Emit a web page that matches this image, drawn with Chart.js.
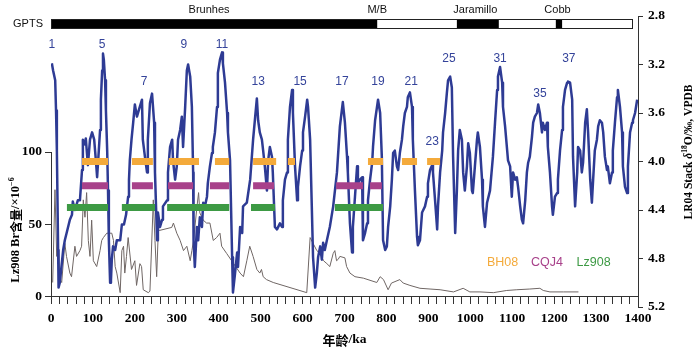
<!DOCTYPE html>
<html><head><meta charset="utf-8">
<script src="https://cdn.jsdelivr.net/npm/chart.js@4.4.1/dist/chart.umd.min.js"></script>
<style>html,body{margin:0;padding:0;background:#fff;}canvas{display:block;}</style>
</head><body>
<canvas id="c" width="700" height="352"></canvas>
<script>
// ---------- DATA ----------
// LR04 benthic stack: [age ka, δ18O ‰]
const lr04Stack = [
[2,3.19],[5,3.25],[10,3.33],[12,3.58],[14,3.91],[15.5,4.32],[17,4.73],[18,5.04],[21,5.00],[24,4.90],[29,4.73],[33,4.65],[38,4.58],[45,4.48],[50,4.44],[52,4.33],[57,4.40],[64,4.32],[69,4.32],[74,4.07],[76,3.82],[81,3.86],[83,3.81],[88,4.03],[93,3.82],[98,3.76],[103,3.82],[107,3.99],[110,4.13],[114,3.91],[117,3.74],[119,3.49],[122,3.25],[124,3.11],[126,3.16],[129,3.33],[131,3.58],[134,3.91],[136,4.24],[138,4.65],[141,5.00],[143,4.98],[145,4.81],[148,4.70],[153,4.73],[157,4.65],[165,4.65],[169,4.52],[174,4.52],[179,4.44],[184,4.29],[186,4.15],[188,3.99],[192,3.82],[196,3.68],[200,3.53],[205,3.63],[210,3.57],[217,3.49],[219,3.82],[224,3.96],[229,4.09],[231,3.82],[236,3.52],[241,3.44],[246,3.68],[248,4.09],[253,4.65],[255,4.42],[260,4.54],[265,4.48],[267,4.37],[277,4.32],[279,4.09],[284,3.88],[289,3.82],[291,3.99],[296,4.15],[300,4.04],[303,3.82],[308,3.74],[312,3.63],[315,3.88],[320,3.55],[324,3.25],[327,3.20],[332,3.30],[336,3.55],[339,4.09],[340,4.65],[343,4.87],[348,4.54],[351,4.65],[355,4.46],[360,4.54],[363,4.34],[367,4.37],[372,4.29],[374,4.18],[379,4.04],[384,3.93],[386,3.88],[391,3.76],[396,3.55],[398,3.27],[403,3.16],[408,3.10],[410,3.19],[415,3.35],[420,3.60],[422,3.76],[427,3.99],[432,4.79],[434,5.08],[439,4.92],[444,4.75],[446,4.87],[451,4.54],[456,4.59],[458,4.37],[467,4.34],[475,4.15],[482,3.82],[487,3.63],[491,3.48],[494,3.66],[498,3.76],[503,3.82],[506,3.91],[510,4.04],[515,4.24],[518,3.99],[522,3.88],[527,3.96],[529,4.09],[534,4.54],[539,4.56],[546,4.51],[551,4.54],[553,4.32],[558,4.15],[563,4.09],[565,3.82],[570,3.55],[575,3.41],[577,3.60],[582,4.04],[587,4.32],[589,4.21],[594,4.04],[599,3.91],[601,3.76],[606,3.63],[611,3.49],[613,3.55],[618,3.82],[622,4.37],[625,4.79],[630,5.04],[634,4.92],[637,4.79],[642,4.70],[646,4.81],[649,4.67],[653,4.73],[658,4.65],[665,4.54],[673,4.37],[682,4.09],[689,3.71],[696,3.51],[701,3.68],[706,3.96],[708,4.09],[713,4.51],[718,4.75],[720,4.54],[725,4.29],[730,4.04],[732,4.18],[737,4.15],[742,4.13],[744,4.65],[749,4.59],[754,4.51],[756,4.32],[761,4.15],[766,4.01],[768,3.88],[773,3.66],[780,3.49],[785,3.60],[789,3.96],[792,4.65],[797,4.73],[801,4.70],[804,4.54],[809,4.37],[813,4.15],[816,3.93],[820,3.91],[825,4.04],[828,4.07],[832,3.93],[837,3.82],[840,3.71],[844,3.60],[849,3.55],[851,3.47],[856,3.43],[861,3.55],[863,3.82],[868,4.24],[873,4.62],[875,4.69],[880,4.65],[885,4.42],[887,4.42],[892,4.37],[897,4.29],[899,4.18],[904,4.07],[909,4.03],[911,4.09],[916,4.32],[921,4.56],[923,4.37],[928,4.09],[933,3.91],[935,3.76],[940,3.60],[944,3.44],[947,3.33],[952,3.30],[956,3.39],[959,3.96],[964,4.59],[968,4.24],[971,3.91],[975,3.74],[980,3.82],[983,4.09],[987,4.24],[992,4.04],[995,3.85],[999,3.93],[1004,4.24],[1006,4.26],[1011,4.04],[1016,3.82],[1018,3.76],[1023,3.88],[1028,4.15],[1030,4.37],[1035,4.54],[1040,4.34],[1047,4.24],[1054,3.96],[1059,3.68],[1064,3.41],[1066,3.30],[1071,3.22],[1076,3.35],[1078,3.55],[1083,3.71],[1088,3.91],[1090,3.99],[1095,4.04],[1099,4.29],[1102,4.09],[1107,4.15],[1111,4.13],[1114,4.21],[1119,4.37],[1123,4.48],[1126,4.51],[1131,4.32],[1135,4.09],[1138,4.01],[1142,3.96],[1147,3.80],[1150,3.68],[1154,3.63],[1159,3.60],[1162,3.53],[1166,3.60],[1171,3.76],[1173,3.68],[1178,3.74],[1183,3.68],[1185,3.88],[1190,4.09],[1195,4.37],[1197,4.44],[1202,4.29],[1207,4.26],[1209,4.15],[1214,3.91],[1219,3.74],[1221,3.55],[1226,3.41],[1231,3.35],[1233,3.34],[1238,3.35],[1243,3.49],[1245,3.96],[1250,4.37],[1255,4.09],[1257,3.88],[1262,3.91],[1266,4.09],[1269,4.01],[1274,3.68],[1278,3.57],[1281,3.76],[1286,4.15],[1290,4.34],[1293,4.15],[1297,3.91],[1302,3.82],[1305,3.71],[1309,3.66],[1314,3.68],[1317,3.76],[1321,3.96],[1326,4.07],[1328,4.04],[1333,4.18],[1338,4.09],[1340,3.91],[1345,3.68],[1350,3.47],[1352,3.41],[1357,3.55],[1362,3.76],[1364,4.04],[1369,4.21],[1374,4.26],[1376,4.04],[1381,3.76],[1386,3.68],[1388,3.66],[1393,3.60],[1398,3.49]
];
// Lz908 Br content: [age ka, Br ×10^-6]
const lz908Br = [
[4,10],[9.5,74],[13.6,28],[17,37],[21.5,12],[25.5,10],[33,37],[37,28],[45,16.5],[49,14],[57,35],[61,28],[69,32],[73,35],[77,67],[81,55],[85,72],[89,39],[93,28],[97,53],[101,25],[109,21],[117,32],[121,39],[125,41],[133,44],[145,44],[149,39],[153,21],[157,16.5],[165,3],[169,32],[173,35],[176,16.5],[180,28],[184,41],[192,19],[200,25],[204,8],[212,23],[216,21],[220,5],[232,3],[236,4],[244,67],[248,39],[252,14],[256,46],[260,46],[288,48],[292,51],[300,44],[308,39],[316,32],[324,35],[332,25],[336,32],[340,39],[348,62],[352,72],[355,58],[363,53],[371,51],[379,51],[387,39],[395,41],[403,44],[407,35],[419,30],[451,16.5],[459,14],[467,25],[474,35],[482,28],[491,19],[498,16.5],[502,19],[506,14],[514,12],[530,10],[610,3],[618,41],[625,37],[634,32],[642,30],[650,25],[658,23],[665,21],[673,30],[677,32],[681,25],[685,26],[689,28],[701,27],[705,21],[713,16.5],[725,14],[745,13],[777,10],[785,14],[793,12],[804,5],[812,9.6],[832,12],[840,9.6],[856,8],[880,6],[904,5.5],[928,5],[960,3.5],[983,6],[999,3.5],[1023,3.5],[1055,3],[1087,4.5],[1111,5],[1142,5.5],[1166,6],[1174,4.5],[1190,3.5],[1222,3.5],[1258,3.5]
];
// Loess/lake intervals (ka) for the three records
const bh08Ranges  = [[74,136],[193,243],[281,353],[391,425],[482,537],[565,582],[756,792],[837,873],[897,928]];
const cqj4Ranges  = [[74,136],[193,243],[279,339],[379,425],[482,532],[680,744],[761,789]];
const lz908Ranges = [[38,136],[169,248],[277,425],[477,534],[677,792]];
const rangeLevels = {BH08: 4.0, CQJ4: 4.2, Lz908: 4.38};
const seriesNames = ['BH08','CQJ4','Lz908'];
// MIS peak labels
const misLabels = ['1','5','7','9','11','13','15','17','19','21','23','25','31','35','37'];
const misAge    = [2,122,222,317,408,494,594,694,780,859,909,949,1071,1166,1235];
const misD18O   = [3.04,3.04,3.34,3.04,3.04,3.34,3.34,3.34,3.34,3.34,3.84,3.15,3.15,3.44,3.15];
// GPTS
const gptsNormal = [[0,778],[968,1068],[1204,1219]];
const gptsEnd = 1385;
const gptsNames = ['Brunhes','M/B','Jaramillo','Cobb'];
const gptsNameAge = [377,778,1012,1208];
// legend text positions (age, δ18O)
const legendAge = [1077,1183,1294];
const legendD18O = 4.83;
// ticks
const xTickLabels = [0,100,200,300,400,500,600,700,800,900,1000,1100,1200,1300,1400];
const xMinorStep = 20;
const leftTicks = [0,50,100];
const rightTicks = [2.8,3.2,3.6,4.0,4.4,4.8,5.2];

// ---------- STYLE ----------
const SERIF = '"Liberation Serif","Times New Roman",serif';
const SANS = '"Liberation Sans",Arial,sans-serif';
const CJK = '"Noto Sans CJK SC",sans-serif';
const colors = {BH08:'#f4aa3b', CQJ4:'#a8418a', Lz908:'#3d9a44'};
const blue = '#2e3b94', grey = '#6f6664', axisCol = '#333';

function rangeData(ranges, lvl){
  const d=[];
  ranges.forEach(([a,b])=>{ d.push({x:a,y:lvl},{x:b,y:lvl},{x:b+0.01,y:null}); });
  return d;
}
const xMinor=[]; for(let v=0; v<=1400; v+=xMinorStep) xMinor.push(v);

function drawRuns(ctx, runs, cx, cy){
  let total=0;
  runs.forEach(r=>{ctx.font=r.font; r.w=ctx.measureText(r.t).width; total+=r.w;});
  let x=cx-total/2;
  ctx.textAlign='left'; ctx.textBaseline='middle';
  runs.forEach(r=>{ctx.font=r.font; ctx.fillText(r.t,x,cy+(r.dy||0)); x+=r.w;});
}

const overlay = {
  id:'overlay',
  afterDraw(chart){
    const {ctx, chartArea:ca, scales:{x,yL,yR}} = chart;
    ctx.save();
    // left axis line (0-100 only)
    ctx.strokeStyle=axisCol; ctx.lineWidth=1;
    const lx=Math.round(ca.left-0.5)+0.5;
    ctx.beginPath(); ctx.moveTo(lx,yL.getPixelForValue(100)); ctx.lineTo(lx,yL.getPixelForValue(0)); ctx.stroke();
    // GPTS bar
    const gy=19, gh=10;
    ctx.fillStyle='#000';
    gptsNormal.forEach(([a,b])=>{const p=x.getPixelForValue(a),q=x.getPixelForValue(b); ctx.fillRect(p,gy,q-p,gh);});
    ctx.strokeStyle='#222';
    const x0=x.getPixelForValue(0), x1=x.getPixelForValue(gptsEnd);
    ctx.strokeRect(Math.round(x0)+0.5,gy+0.5,Math.round(x1-x0),gh-1);
    ctx.fillStyle='#111'; ctx.font='11px '+SANS; ctx.textAlign='center'; ctx.textBaseline='middle';
    gptsNames.forEach((n,i)=>ctx.fillText(n,x.getPixelForValue(gptsNameAge[i]),10));
    ctx.textAlign='right'; ctx.fillText('GPTS',ca.left-8,24);
    // MIS labels
    ctx.fillStyle='#34439a'; ctx.font='12px '+SANS; ctx.textAlign='center';
    misLabels.forEach((t,i)=>ctx.fillText(t,x.getPixelForValue(misAge[i]),yR.getPixelForValue(misD18O[i])));
    // legend text
    ctx.font='12.5px '+SANS;
    seriesNames.forEach((n,i)=>{ctx.fillStyle=colors[n]; ctx.fillText(n,x.getPixelForValue(legendAge[i]),yR.getPixelForValue(legendD18O));});
    // axis titles
    ctx.fillStyle='#000';
    drawRuns(ctx,[{t:'年龄',font:'bold 13px '+CJK},{t:'/ka',font:'bold 13.5px '+SERIF}], (ca.left+ca.right)/2, 340);
    ctx.save(); ctx.translate(16,230); ctx.rotate(-Math.PI/2);
    drawRuns(ctx,[{t:'Lz908 Br',font:'bold 12.5px '+SERIF},{t:'含量',font:'bold 12px '+CJK},{t:'/×10',font:'bold 12.5px '+SERIF},{t:'−6',font:'bold 8px '+SERIF,dy:-4}],0,0);
    ctx.restore();
    ctx.save(); ctx.translate(689,152); ctx.rotate(-Math.PI/2);
    drawRuns(ctx,[{t:'LR04 Stack ',font:'bold 11.5px '+SERIF},{t:'δ',font:'italic bold 11.5px '+SERIF},{t:'18',font:'bold 7.5px '+SERIF,dy:-4},{t:'O/‰, VPDB',font:'bold 11.5px '+SERIF}],0,0);
    ctx.restore();
    ctx.restore();
  }
};

const tickFont = {family:SERIF, size:13.5, weight:'bold'};
new Chart(document.getElementById('c'), {
  type:'line',
  data:{datasets:[
    {label:'BH08', data:rangeData(bh08Ranges,rangeLevels.BH08), borderColor:colors.BH08, borderWidth:7, borderCapStyle:'butt', pointRadius:0, spanGaps:false, yAxisID:'yR', order:0},
    {label:'CQJ4', data:rangeData(cqj4Ranges,rangeLevels.CQJ4), borderColor:colors.CQJ4, borderWidth:7, borderCapStyle:'butt', pointRadius:0, spanGaps:false, yAxisID:'yR', order:0},
    {label:'Lz908', data:rangeData(lz908Ranges,rangeLevels.Lz908), borderColor:colors.Lz908, borderWidth:7, borderCapStyle:'butt', pointRadius:0, spanGaps:false, yAxisID:'yR', order:0},
    {label:'LR04', data:lr04Stack.map(([a,v])=>({x:a,y:v})), borderColor:blue, borderWidth:2.5, borderJoinStyle:'round', pointRadius:0, tension:0, yAxisID:'yR', order:1},
    {label:'Br', data:lz908Br.map(([a,v])=>({x:a,y:v})), borderColor:grey, borderWidth:1, pointRadius:0, tension:0, yAxisID:'yL', order:2}
  ]},
  options:{
    responsive:false, animation:false,
    layout:{padding:{top:16,bottom:45,left:0,right:0}},
    plugins:{legend:{display:false}, tooltip:{enabled:false}},
    scales:{
      x:{type:'linear', min:0, max:1400, position:{yL:0},
        afterBuildTicks:s=>{s.ticks=xMinor.map(v=>({value:v}));},
        ticks:{autoSkip:false, maxRotation:0, minRotation:0, padding:6, color:'#000', font:tickFont,
          callback:v=>xTickLabels.includes(v)?String(v):''},
        grid:{drawOnChartArea:false, drawTicks:true, tickLength:7, color:axisCol},
        border:{display:true, color:axisCol, width:1}},
      yL:{type:'linear', position:'left', min:-6.9, max:193.8,
        afterFit:s=>{s.width=51;},
        afterBuildTicks:s=>{s.ticks=leftTicks.map(v=>({value:v}));},
        ticks:{padding:3, color:'#000', font:tickFont, callback:v=>String(v)},
        grid:{drawOnChartArea:false, tickLength:6, color:axisCol},
        border:{display:false}},
      yR:{type:'linear', position:'right', min:2.8, max:5.2, reverse:true,
        afterFit:s=>{s.width=62;},
        afterBuildTicks:s=>{s.ticks=rightTicks.map(v=>({value:v}));},
        ticks:{padding:5, color:'#000', font:tickFont, callback:v=>Number(v).toFixed(1)},
        grid:{drawOnChartArea:false, tickLength:5, color:axisCol},
        border:{display:true, color:axisCol, width:1}}
    }
  },
  plugins:[overlay]
});
</script></body></html>
